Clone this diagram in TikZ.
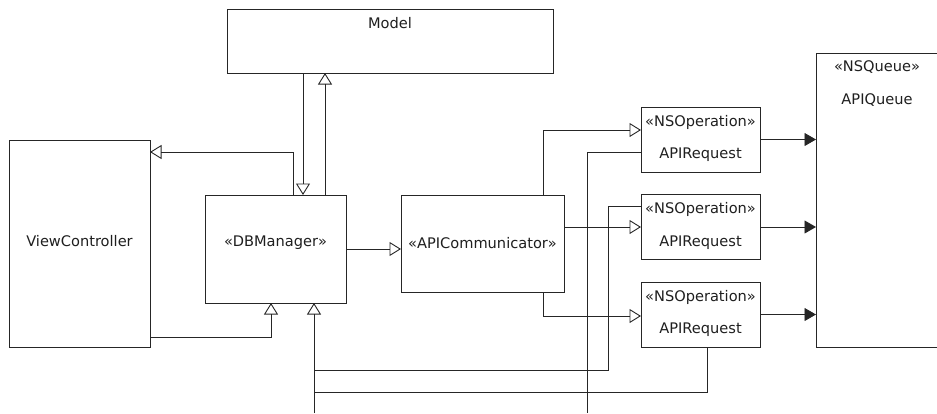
\documentclass[tikz,border=0pt]{standalone}
\usepackage{fontspec}
\setmainfont{DejaVu Sans}
\usetikzlibrary{arrows.meta}
\begin{document}
\begin{tikzpicture}[x=1pt,y=-1pt,
  box/.style={draw=black!85, line width=0.9pt, inner sep=0pt, outer sep=0pt, fill=white},
  txt/.style={inner sep=0pt, text=black!88, font=\fontsize{14.6}{17}\selectfont},
  wire/.style={draw=black!85, line width=0.9pt},
  oa/.style={wire, -{Triangle[open, length=11.5pt, width=14pt, line width=0.9pt]}},
  fa/.style={wire, -{Triangle[length=11.5pt, width=13pt]}}]
\useasboundingbox (0,0) rectangle (937,413);
\clip (0,0) rectangle (937,413);

% classes
\node[box, minimum width=326pt, minimum height=64pt] (model) at (390,41) {};
\node[txt] (modelt) at (390,23) {Model};
\node[box, minimum width=141pt, minimum height=207pt] (vc) at (79.5,243.5) {};
\node[txt] (vct) at (79.5,241) {ViewController};
\node[box, minimum width=141pt, minimum height=108pt] (db) at (275.5,249) {};
\node[txt] (dbt) at (275.5,243) {«DBManager»};
\node[box, minimum width=163pt, minimum height=97pt] (apic) at (482.5,243.5) {};
\node[txt] (apict) at (482.5,243) {«APICommunicator»};

% operations
\foreach \n/\cy in {r1/139.5, r2/227, r3/314.5}{
  \node[box, minimum width=119pt, minimum height=65pt] (\n) at (700.5,\cy) {};
  \node[txt] (\n a) at (700.5,\cy-17.5) {«NSOperation»};
  \node[txt] (\n b) at (700.5,\cy+15.5) {APIRequest};
}

% queue
\node[box, minimum width=129pt, minimum height=294pt] (q) at (880.5,200) {};
\node[txt] (qa) at (877,67) {«NSQueue»};
\node[txt] (qb) at (877,100) {APIQueue};

% routing points
\coordinate (k0) at (303,0);
\coordinate (k0b) at (325,0);
\coordinate (k1) at (293,152);
\coordinate (k2) at (271,337);
\coordinate (bb) at (314,413);
\coordinate (k3a) at (608,206);
\coordinate (k3) at (608,370);
\coordinate (k4) at (707,392);
\coordinate (k5) at (587,152);
\coordinate (k6) at (543,130);
\coordinate (k7) at (543,316);

% model <-> manager
\draw[oa] (model.south -| k0) -- (db.north -| k0);
\draw[oa] (db.north -| k0b) -- (model.south -| k0b);
% manager <-> view controller
\draw[oa] (db.north -| k1) |- (vc.east |- k1);
\draw[oa] (vc.east |- k2) -| (db.south -| k2);
% manager -> communicator
\draw[oa] (db.east) -- (db.east -| apic.west);
% communicator -> requests
\draw[oa] (apic.north -| k6) |- (r1.west |- k6);
\draw[oa] (r2.west -| apic.east) -- (r2.west);
\draw[oa] (apic.south -| k7) |- (r3.west |- k7);
% requests -> queue
\draw[fa] (r1.east) -- (r1.east -| q.west);
\draw[fa] (r2.east) -- (r2.east -| q.west);
\draw[fa] (r3.east) -- (r3.east -| q.west);
% requests back to the manager
\draw[oa] (bb) -- (db.south -| bb);
\draw[wire] (r2.west |- k3a) -- (k3a) |- (bb |- k3);
\draw[wire] (r3.south -| k4) |- (bb |- k4);
\draw[wire] (r1.west |- k5) -| (k5 |- bb);
\end{tikzpicture}
\end{document}
